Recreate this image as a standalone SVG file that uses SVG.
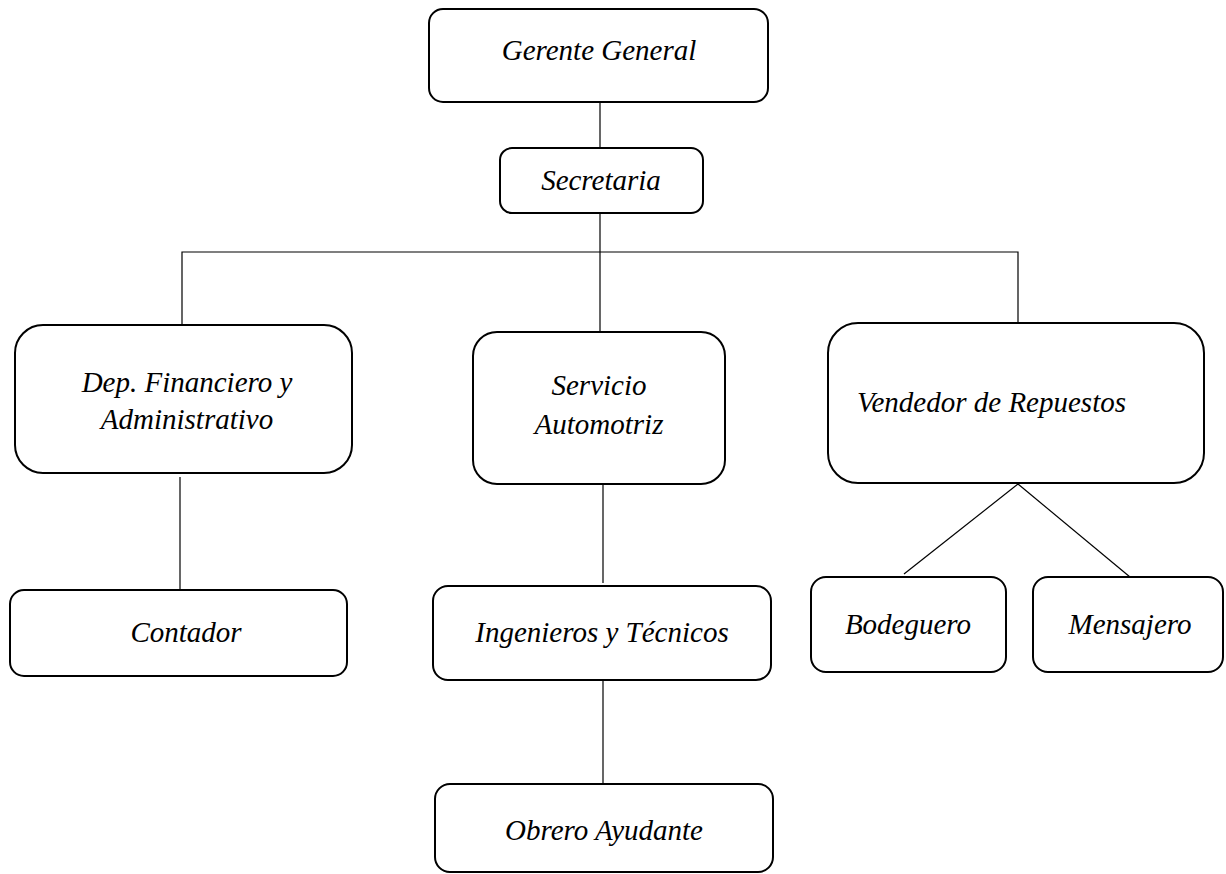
<svg xmlns="http://www.w3.org/2000/svg" width="1226" height="874" viewBox="0 0 1226 874">
<style>
.box{fill:#fff;stroke:#000;stroke-width:2}
.t{font-family:"Liberation Serif","Times New Roman",serif;font-style:italic;font-size:29px;fill:#000;text-anchor:middle}
.c{stroke:#000;stroke-width:1.2;fill:none}
</style>
<rect width="1226" height="874" fill="#fff"/>
<g id="connectors">
<line class="c" x1="600" y1="102" x2="600" y2="148"/>
<line class="c" x1="600" y1="213" x2="600" y2="332"/>
<polyline class="c" points="182,325 182,252 1018,252 1018,323"/>
<line class="c" x1="180" y1="477" x2="180" y2="589"/>
<line class="c" x1="603" y1="484" x2="603" y2="583"/>
<line class="c" x1="603" y1="680" x2="603" y2="784"/>
<line class="c" x1="1018" y1="484" x2="904" y2="574"/>
<line class="c" x1="1018" y1="484" x2="1130" y2="577"/>
</g>
<g id="gerente"><rect class="box" x="429" y="9" width="339" height="93" rx="14"/><text class="t" x="599" y="60">Gerente General</text></g>
<g id="secretaria"><rect class="box" x="500" y="148" width="203" height="65" rx="12"/><text class="t" x="601" y="190">Secretaria</text></g>
<g id="financiero"><rect class="box" x="15" y="325" width="337" height="148" rx="28"/><text class="t" x="187" y="392">Dep. Financiero y</text><text class="t" x="187" y="429">Administrativo</text></g>
<g id="servicio"><rect class="box" x="473" y="332" width="252" height="152" rx="24"/><text class="t" x="599" y="395">Servicio</text><text class="t" x="599" y="434">Automotriz</text></g>
<g id="vendedor"><rect class="box" x="828" y="323" width="376" height="160" rx="30"/><text class="t" x="857" y="412" style="text-anchor:start">Vendedor de Repuestos</text></g>
<g id="contador"><rect class="box" x="10" y="590" width="337" height="86" rx="14"/><text class="t" x="186" y="642">Contador</text></g>
<g id="ingenieros"><rect class="box" x="433" y="586" width="338" height="94" rx="15"/><text class="t" x="602" y="642">Ingenieros y Técnicos</text></g>
<g id="obrero"><rect class="box" x="435" y="784" width="338" height="88" rx="15"/><text class="t" x="604" y="840">Obrero Ayudante</text></g>
<g id="bodeguero"><rect class="box" x="811" y="577" width="195" height="95" rx="15"/><text class="t" x="908" y="634">Bodeguero</text></g>
<g id="mensajero"><rect class="box" x="1033" y="577" width="190" height="95" rx="15"/><text class="t" x="1130" y="634">Mensajero</text></g>
</svg>
